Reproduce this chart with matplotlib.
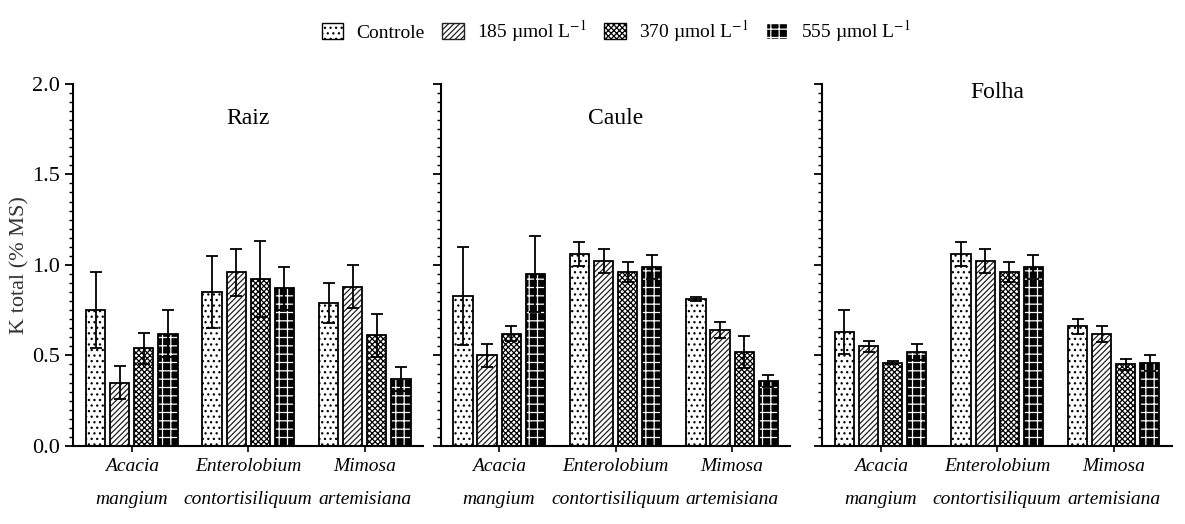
import matplotlib.pyplot as plt
import numpy as np
from matplotlib.patches import Patch
from matplotlib.ticker import MultipleLocator, FormatStrFormatter

plt.rcParams['font.family'] = ['Liberation Serif', 'DejaVu Serif']
plt.rcParams['mathtext.fontset'] = 'stix'
plt.rcParams['hatch.linewidth'] = 0.9

# data
especies = ['Acacia\nmangium', 'Enterolobium\ncontortisiliquum', 'Mimosa\nartemisiana']
tratamentos = ['Controle', r'185 µmol L$^{-1}$', r'370 µmol L$^{-1}$', r'555 µmol L$^{-1}$']
orgaos = ['Raiz', 'Caule', 'Folha']

# rows = species, cols = treatments
raiz = [[0.75, 0.35, 0.54, 0.62],
        [0.85, 0.96, 0.92, 0.87],
        [0.79, 0.88, 0.61, 0.37]]
raiz_err = [[0.21, 0.09, 0.085, 0.13],
            [0.20, 0.13, 0.21, 0.12],
            [0.11, 0.12, 0.12, 0.065]]

caule = [[0.83, 0.50, 0.62, 0.95],
         [1.06, 1.02, 0.96, 0.99],
         [0.81, 0.64, 0.52, 0.36]]
caule_err = [[0.27, 0.065, 0.04, 0.21],
             [0.065, 0.065, 0.055, 0.066],
             [0.01, 0.045, 0.088, 0.033]]

folha = [[0.63, 0.55, 0.46, 0.52],
         [1.06, 1.02, 0.96, 0.99],
         [0.66, 0.62, 0.45, 0.46]]
folha_err = [[0.12, 0.03, 0.008, 0.045],
             [0.065, 0.065, 0.055, 0.066],
             [0.042, 0.044, 0.031, 0.044]]

valores = [raiz, caule, folha]
erros = [raiz_err, caule_err, folha_err]

# estilo de cada tratamento: (face, cor do hatch, hatch)
estilos = [('white', 'black', '...'),
           ('white', '#222222', '//////'),
           ('white', 'black', 'xxxxxx'),
           ('black', 'white', '++')]

fig = plt.figure(figsize=(11.85, 5.24), dpi=100)
lefts = [0.062, 0.372, 0.694]
titulo_y = [0.905, 0.905, 0.975]

x = np.arange(len(especies))
passo = 0.207
larg = 0.165

for k in range(3):
    ax = fig.add_axes([lefts[k], 0.149, 0.295, 0.691])
    v = np.array(valores[k])
    e = np.array(erros[k])
    for t in range(4):
        pos = x + (t - 1.5) * passo
        face, hc, hatch = estilos[t]
        ax.bar(pos, v[:, t], larg, color=face, edgecolor=hc, hatch=hatch,
               linewidth=0, zorder=2)
        ax.bar(pos, v[:, t], larg, fill=False, edgecolor='black',
               linewidth=1.3, zorder=3)
        ax.errorbar(pos, v[:, t], yerr=e[:, t], fmt='none', ecolor='black',
                    elinewidth=1.3, capsize=4, capthick=1.3, zorder=4)

    ax.set_xlim(-0.5, 2.5)
    ax.set_ylim(0, 2.0)
    ax.spines['top'].set_visible(False)
    ax.spines['right'].set_visible(False)
    ax.spines['left'].set_linewidth(1.5)
    ax.spines['bottom'].set_linewidth(1.5)
    ax.yaxis.set_major_locator(MultipleLocator(0.5))
    ax.yaxis.set_minor_locator(MultipleLocator(0.05))
    ax.yaxis.set_major_formatter(FormatStrFormatter('%.1f'))
    ax.tick_params(axis='y', which='major', length=6, width=1.3, labelsize=16)
    ax.tick_params(axis='y', which='minor', length=3, width=1.0)
    ax.tick_params(axis='x', length=4, width=1.2, pad=5)
    ax.set_xticks(x)
    ax.set_xticklabels(especies, fontsize=14, style='italic', linespacing=2.2)
    if k == 0:
        ax.set_ylabel('K total (% MS)', fontsize=16, color='#333333', labelpad=2)
    else:
        ax.set_yticklabels([])
    ax.text(0.5, titulo_y[k], orgaos[k], transform=ax.transAxes,
            ha='center', va='center', fontsize=17)

handles = [Patch(facecolor=s[0], edgecolor=s[1], hatch=s[2]) for s in estilos]
leg = fig.legend(handles, tratamentos, loc='center', bbox_to_anchor=(0.52, 0.94),
                 ncol=4, frameon=False, fontsize=14, handlelength=1.1,
                 handleheight=0.9, handletextpad=0.7, columnspacing=0.9)
for h in leg.legend_handles:
    h.set_linewidth(1.0)

fig.savefig('out.png', dpi=100)
